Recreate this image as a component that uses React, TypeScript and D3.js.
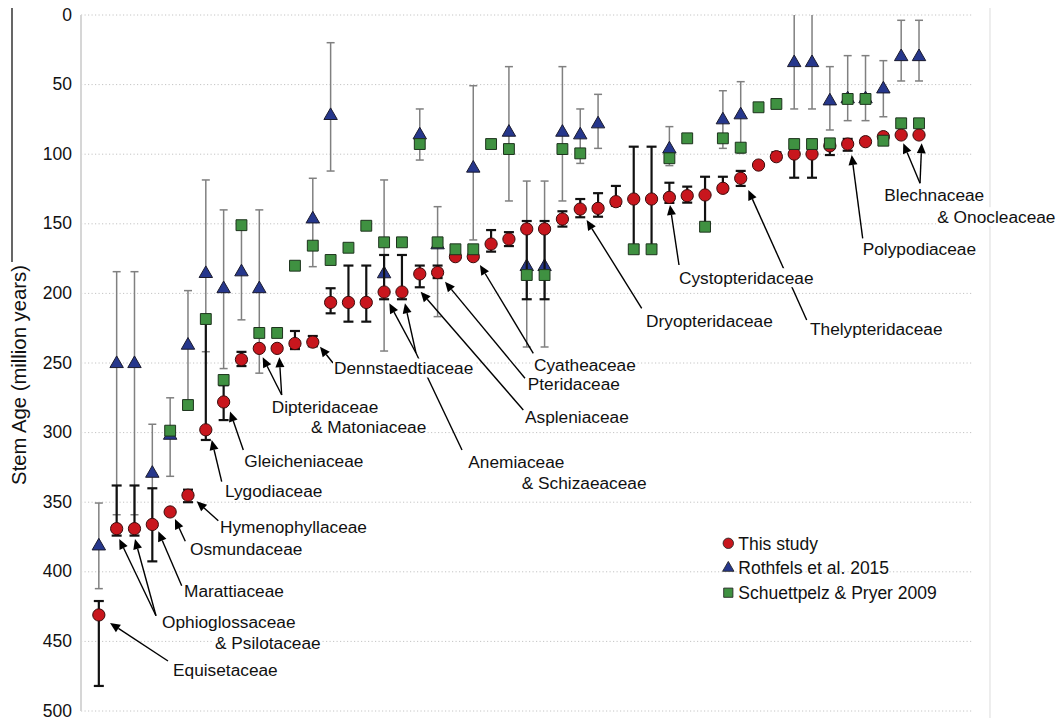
import React from 'react';
import * as d3 from 'd3';

// Stem ages (million years) of 47 fern lineages, left to right on the chart
const thisStudy = [431, 369, 369, 366, 357, 345, 298, 278, 247.5, 239.5,
  239.5, 236, 235, 206.5, 206.5, 206.5, 199, 199, 186, 185,
  173.6, 173.6, 164.5, 161, 153.7, 153.7, 146.6, 139.4, 138.9, 134.1,
  132.2, 132.2, 131, 129.8, 129.3, 124.5, 117.3, 107.8, 101.8, 99.9,
  99.9, 94, 92.7, 91, 87.4, 86.2, 86.2];
const thisStudyLo = [421, 338, 338, 340, null, 341, 220, 266, 242, null,
  null, 227, 230.6, 196.3, 180, 180, 172.4, 172.4, 180, 180,
  null, null, 154.5, 156, 148, 148, 141, 132.2, 128, 122.8,
  94.6, 94.6, 120.5, 123.3, 116.2, 116.2, 112, null, 98.6, 92,
  92, 90, 89, null, null, null, null];
const thisStudyHi = [482, 374, 374, 392.5, null, 350, 305.3, 291, 252.2, null,
  null, 240, 238, 214.3, 220.3, 220.3, 204.2, 204.2, 195.6, 189,
  null, null, 170, 166, 204.2, 204.2, 152, 145.3, 144.9, 137,
  168.3, 168.3, 135, 134.8, 152.1, 127, 122.8, null, 104, 116.9,
  116.9, 100.6, 97.5, null, null, null, null];

const rothfels = [381.5, 250.5, 250.5, 329.3, 302, 237.3, 185.8, 196.7, 184.6, 196.7,
  null, null, 146.6, 72.3, null, null, 186, null, 86.2, 165.2,
  null, 110.1, null, 84.3, 180.8, 180.8, 84.3, 86.2, 78.3, null,
  null, null, 96.3, null, null, 75.4, 71.8, null, null, 34.3,
  34.3, 61.8, 60.3, 60.3, 53.2, 30, 30];
const rothfelsLo = [350.6, 184.4, 184.4, 294, 275, 198, 118.5, 140, 151, 140,
  null, null, 117.3, 19.9, null, null, 118.5, null, 67.5, 137.7,
  null, 50.8, null, 37.1, 119.3, 119.3, 37.1, 67.5, 57, null,
  null, null, 80.2, null, null, 54.4, 47.9, null, null, -2,
  -2, 37.1, 29.2, 29.2, 32.8, 3.8, 3.8];
const rothfelsHi = [412.1, 359, 359, 364, 331.4, 277, 241.9, 254, 219, 257.3,
  null, null, 180.8, 112.1, null, null, 241.4, null, 104.2, 216.7,
  null, 161.6, null, 133.6, 238.5, 238.5, 133.6, 106.6, 95.8, null,
  null, null, 108.2, null, null, 95.8, 99.4, null, null, 67.5,
  67.5, 82.6, 75.9, 75.9, 73.1, 47.4, 47.4];

const schuettpelz = [null, null, null, null, 298.6, 280.2, 218.4, 262.2, 151, 228.4,
  228.4, 180.1, 165.7, 176, 167.2, 151.4, 163.3, 163.3, 92.7, 163.3,
  168.3, 168.3, 92.7, 96.3, 186.8, 186.8, 96.3, 99.4, null, null,
  168.3, 168.3, 102.9, 88.6, 152.1, 88.6, 95.3, 66.3, 63.9, 92.7,
  92.7, 92.2, 60.3, 60.3, 90.3, 77.8, 77.8];

const yTicks = [0, 50, 100, 150, 200, 250, 300, 350, 400, 450, 500];

const legendNames = ['This study', 'Rothfels et al. 2015', 'Schuettpelz & Pryer 2009'];

// labels: [text, left x, centre y]; targets: [column, dx, dy] offset from the red point
const annotations = [
  { lines: [['Equisetaceae', 173, 670]], from: [168, 661], targets: [[1, 11.2, 8]] },
  { lines: [['Ophioglossaceae', 162, 622], ['& Psilotaceae', 215, 643]], from: [156, 615.7], targets: [[2, 2.6, 10.4], [3, 0.5, 10.4]] },
  { lines: [['Marattiaceae', 184, 591.3]], from: [181.7, 585.7], targets: [[4, 6, 6.8]] },
  { lines: [['Osmundaceae', 190, 549]], from: [185.3, 541.3], targets: [[5, 4.8, 7]] },
  { lines: [['Hymenophyllaceae', 220, 527.3]], from: [218.3, 520.7], targets: [[6, 8.7, 6.1]] },
  { lines: [['Lygodiaceae', 225, 491.3]], from: [221.7, 481.7], targets: [[7, 5.9, 10.2]] },
  { lines: [['Gleicheniaceae', 244.3, 461.3]], from: [243.3, 450], targets: [[8, 6.4, 9.5]] },
  { lines: [['Dipteridaceae', 271.7, 406.7], ['& Matoniaceae', 311, 427.3]], from: [281.7, 395], targets: [[10, 3.4, 8.9], [11, 2.2, 8.9]] },
  { lines: [['Dennstaedtiaceae', 334, 368]], from: [333, 363], targets: [[13, 7.2, 4.6]] },
  { lines: [['Anemiaceae', 468.3, 461.7], ['& Schizaeaceae', 521.7, 482.7]], lead: [462, 450], from: [416, 353], targets: [[17, 5.2, 11.3], [18, 3, 11.3]] },
  { lines: [['Aspleniaceae', 525, 416.7]], from: [523.3, 410], targets: [[19, 0.9, 17.8]] },
  { lines: [['Pteridaceae', 527.7, 384]], from: [525, 378.3], targets: [[20, 7.4, 9.2]] },
  { lines: [['Cyatheaceae', 534, 365]], from: [533.3, 353.3], targets: [[22, 6.7, 8.3]] },
  { lines: [['Dryopteridaceae', 646, 320.7]], from: [641.7, 308.3], targets: [[28, 6.4, 11]] },
  { lines: [['Cystopteridaceae', 679, 277.7]], from: [679, 265], targets: [[33, 0.6, 7.6]] },
  { lines: [['Thelypteridaceae', 810, 329.3]], from: [806.7, 320], targets: [[37, 7.6, 11.7]] },
  { lines: [['Polypodiaceae', 862.7, 249.3]], from: [862.7, 238.3], targets: [[43, 4, 11]] },
  { lines: [['Blechnaceae', 884.3, 195], ['& Onocleaceae', 937.3, 216.7]], from: [920, 183.3], targets: [[46, 2.1, 8.3], [47, 2.7, 8.3]] },
];

const FONT = '"Liberation Sans", Arial, Helvetica, sans-serif';
const RED = '#c8161d', BLUE = '#26378c', GREEN = '#3f9141';

const W = 1060, H = 718;
const x = d3.scaleLinear().domain([0, 50]).range([81, 972.5]);
const y = d3.scaleLinear().domain([0, 500]).range([15, 711]);

const circle = d3.symbol().type(d3.symbolCircle).size(118)();
const triangle = d3.symbol().type(d3.symbolTriangle).size(78)();
const square = d3.symbol().type(d3.symbolSquare).size(118)();

let measureCtx: CanvasRenderingContext2D | null = null;
function textWidth(t: string, size: number) {
  if (!measureCtx) measureCtx = document.createElement('canvas').getContext('2d');
  if (!measureCtx) return t.length * size * 0.52;
  measureCtx.font = size + 'px ' + FONT;
  return measureCtx.measureText(t).width;
}

function ErrorBars({ lo, hi, color, width, cap }) {
  return (
    <g stroke={color} strokeWidth={width}>
      {lo.map((l, i) => {
        const h = hi[i];
        if (l == null || h == null) return null;
        const cx = x(i + 1);
        return (
          <g key={i}>
            <line x1={cx} x2={cx} y1={y(l)} y2={y(h)} />
            <line x1={cx - cap} x2={cx + cap} y1={y(l)} y2={y(l)} />
            <line x1={cx - cap} x2={cx + cap} y1={y(h)} y2={y(h)} />
          </g>
        );
      })}
    </g>
  );
}

function Markers({ values, path, fill, stroke }) {
  return (
    <g fill={fill} stroke={stroke} strokeWidth={1}>
      {values.map((v, i) => v == null ? null : (
        <path key={i} d={path} transform={`translate(${x(i + 1)},${y(v)})`} />
      ))}
    </g>
  );
}

function Arrow({ x1, y1, x2, y2 }) {
  const a = Math.atan2(y2 - y1, x2 - x1);
  const len = 10, hw = 4.5;
  const bx = x2 - len * Math.cos(a), by = y2 - len * Math.sin(a);
  const px = -Math.sin(a) * hw, py = Math.cos(a) * hw;
  return (
    <g>
      <line x1={x1} y1={y1} x2={bx} y2={by} stroke="#000" strokeWidth={1.4} />
      <path d={`M${x2},${y2}L${bx + px},${by + py}L${bx - px},${by - py}Z`} fill="#000" />
    </g>
  );
}

export default function App() {
  const labelSize = 17.3;
  return (
    <svg width={W} height={H} style={{ position: 'absolute', left: 0, top: 0, background: '#fff' }} fontFamily={FONT}>
      <defs>
        <clipPath id="plot">
          <rect x={81} y={15} width={910} height={700} />
        </clipPath>
      </defs>
      <rect width={W} height={H} fill="#fff" />
      {/* outer frame remnants */}
      <line x1={12} x2={12} y1={8} y2={262} stroke="#000" strokeWidth={1.2} />
      <line x1={990} x2={990} y1={8} y2={H} stroke="#e2e2e2" strokeWidth={1.2} />

      {/* grid */}
      <g stroke="#c4c4c4" strokeWidth={1} strokeDasharray="1.2 2.3">
        {yTicks.map(t => <line key={t} x1={x(0)} x2={x(50)} y1={y(t)} y2={y(t)} />)}
      </g>
      <line x1={x(0)} x2={x(0)} y1={y(0)} y2={y(500)} stroke="#d6d6d6" strokeWidth={2} />
      <g fontSize={17.5} fill="#111" textAnchor="end">
        {yTicks.map(t => <text key={t} x={72} y={y(t) + 5.6}>{t}</text>)}
      </g>
      <text transform="translate(26,375) rotate(-90)" textAnchor="middle" fontSize={20.3} fill="#111">Stem Age (million years)</text>

      <g clipPath="url(#plot)">
        <ErrorBars lo={rothfelsLo} hi={rothfelsHi} color="#808080" width={1.5} cap={4} />
        <Markers values={rothfels} path={triangle} fill={BLUE} stroke="#1b1b2e" />
        <ErrorBars lo={thisStudyLo} hi={thisStudyHi} color="#111" width={2.2} cap={5} />
        <Markers values={thisStudy} path={circle} fill={RED} stroke="#3a0b0b" />
        <Markers values={schuettpelz} path={square} fill={GREEN} stroke="#1d331d" />
      </g>

      {/* annotations */}
      {annotations.map((a, k) => (
        <g key={'a' + k}>
          {a.lead && <line x1={a.lead[0]} y1={a.lead[1]} x2={a.from[0]} y2={a.from[1]} stroke="#000" strokeWidth={1.4} />}
          {a.targets.map(([col, dx, dy], j) => (
            <Arrow key={j} x1={a.from[0]} y1={a.from[1]} x2={x(col) + dx} y2={y(thisStudy[col - 1]) + dy} />
          ))}
        </g>
      ))}
      {annotations.map((a, k) => (
        <g key={'l' + k} fontSize={labelSize} fill="#111">
          {a.lines.map(([t, lx, cy], j) => (
            <g key={j}>
              <rect x={lx - 1} y={cy - 9.5} width={textWidth(t, labelSize) + 2} height={19} fill="#fff" />
              <text x={lx} y={cy + 6}>{t}</text>
            </g>
          ))}
        </g>
      ))}

      {/* legend */}
      <g fontSize={17.5} fill="#111">
        {legendNames.map((name, i) => {
          const ly = 543.3 + i * 24.7;
          const p = [circle, triangle, square][i];
          const fill = [RED, BLUE, GREEN][i];
          return (
            <g key={name}>
              <path d={p} transform={`translate(728.3,${ly}) scale(0.85)`} fill={fill} stroke="#222" strokeWidth={1} />
              <text x={738.3} y={ly + 6.2}>{name}</text>
            </g>
          );
        })}
      </g>
    </svg>
  );
}
